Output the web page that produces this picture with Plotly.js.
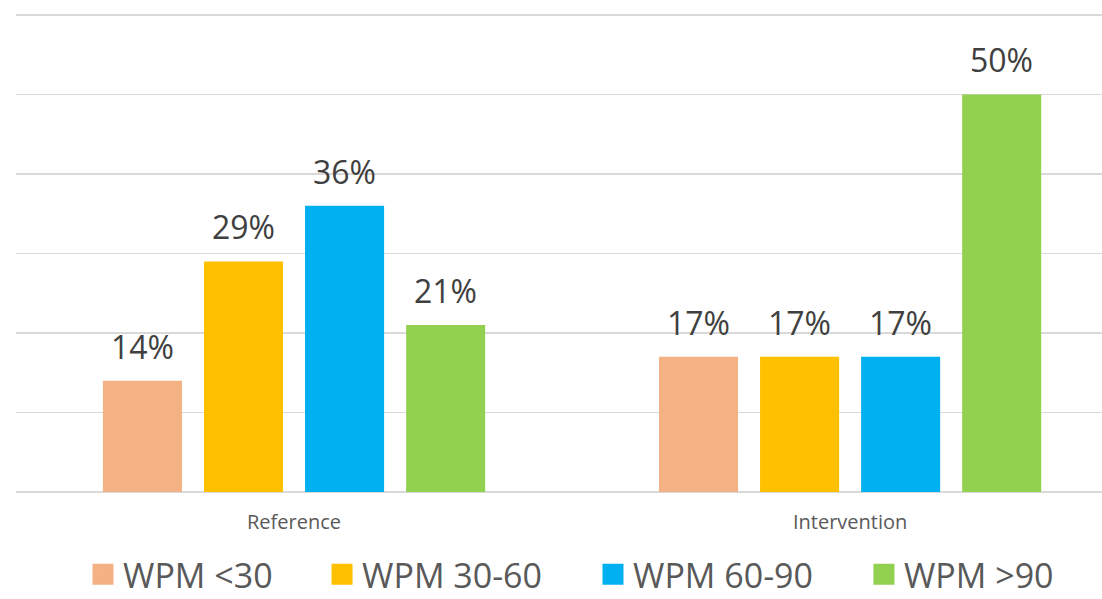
<!DOCTYPE html>
<html>
<head>
<meta charset="utf-8">
<script src="https://cdn.plot.ly/plotly-3.0.1.min.js"></script>
<style>html,body{margin:0;padding:0;background:#fff;}#chart{width:1102px;height:599px;}</style>
</head>
<body>
<div id="chart"></div>
<script>
const categories = ['Reference', 'Intervention'];
const seriesNames = ['WPM <30', 'WPM 30-60', 'WPM 60-90', 'WPM >90'];
const wpmUnder30 = [14, 17];
const wpm30to60 = [29, 17];
const wpm60to90 = [36, 17];
const wpmOver90 = [21, 50];
const seriesColors = ['#F4B183', '#FFC000', '#00B0F0', '#92D050'];
// horizontal placement of each legend entry (paper fraction)
const legendX = [0.0617, 0.2818, 0.5313, 0.7808];

const seriesValues = [wpmUnder30, wpm30to60, wpm60to90, wpmOver90];
const bargap = 0.273;
const bargroupgap = 0.218;

const traces = [];
seriesValues.forEach((vals, i) => {
  traces.push({
    type: 'bar', x: categories, y: vals, name: seriesNames[i],
    marker: {color: seriesColors[i]}, showlegend: false, hoverinfo: 'x+y'
  });
});
const legendFont = {family: 'Open Sans', size: 34, color: '#595959'};
const legendLayouts = {};
seriesValues.forEach((vals, i) => {
  const key = i === 0 ? 'legend' : 'legend' + (i + 1);
  traces.push({
    type: 'scatter', mode: 'markers', x: [null], y: [null], name: seriesNames[i],
    legend: key,
    marker: {symbol: 'square', size: 16, color: seriesColors[i], line: {width: 5, color: seriesColors[i]}},
    showlegend: true, hoverinfo: 'skip'
  });
  legendLayouts[key] = {
    x: legendX[i], xanchor: 'left', y: -0.172, yanchor: 'middle',
    font: legendFont, bgcolor: 'rgba(0,0,0,0)', borderwidth: 0
  };
});

// data labels placed above each grouped bar, in category units
const n = seriesValues.length;
const slot = (1 - bargap) / n;
const annotations = [];
seriesValues.forEach((vals, i) => {
  vals.forEach((v, c) => {
    annotations.push({
      x: c + (i - (n - 1) / 2) * slot, y: v, xref: 'x', yref: 'y',
      text: v + '%', showarrow: false, yanchor: 'bottom', yshift: 11,
      font: {family: 'Open Sans', size: 32, color: '#404040'}
    });
  });
});

const layout = Object.assign({
  width: 1102, height: 599,
  margin: {l: 16, r: 0, t: 11, b: 107, autoexpand: false},
  paper_bgcolor: '#ffffff', plot_bgcolor: '#ffffff',
  barmode: 'group', bargap: bargap, bargroupgap: bargroupgap,
  xaxis: {
    type: 'category', range: [-0.5, 1.453], showgrid: false, zeroline: false,
    showline: false, ticks: '', fixedrange: true, automargin: false,
    ticklabelstandoff: 16,
    tickfont: {family: 'Open Sans', size: 20, color: '#595959'}
  },
  yaxis: {
    range: [0, 60.5], dtick: 10, tick0: 0, showticklabels: false, ticks: '',
    gridcolor: '#d9d9d9', gridwidth: 1.5, zeroline: true, zerolinecolor: '#d9d9d9',
    zerolinewidth: 1.5, showline: false, fixedrange: true, automargin: false
  },
  showlegend: true,
  annotations: annotations,
  font: {family: 'Open Sans'}
}, legendLayouts);

Plotly.newPlot('chart', traces, layout, {displayModeBar: false, staticPlot: true});
</script>
</body>
</html>
